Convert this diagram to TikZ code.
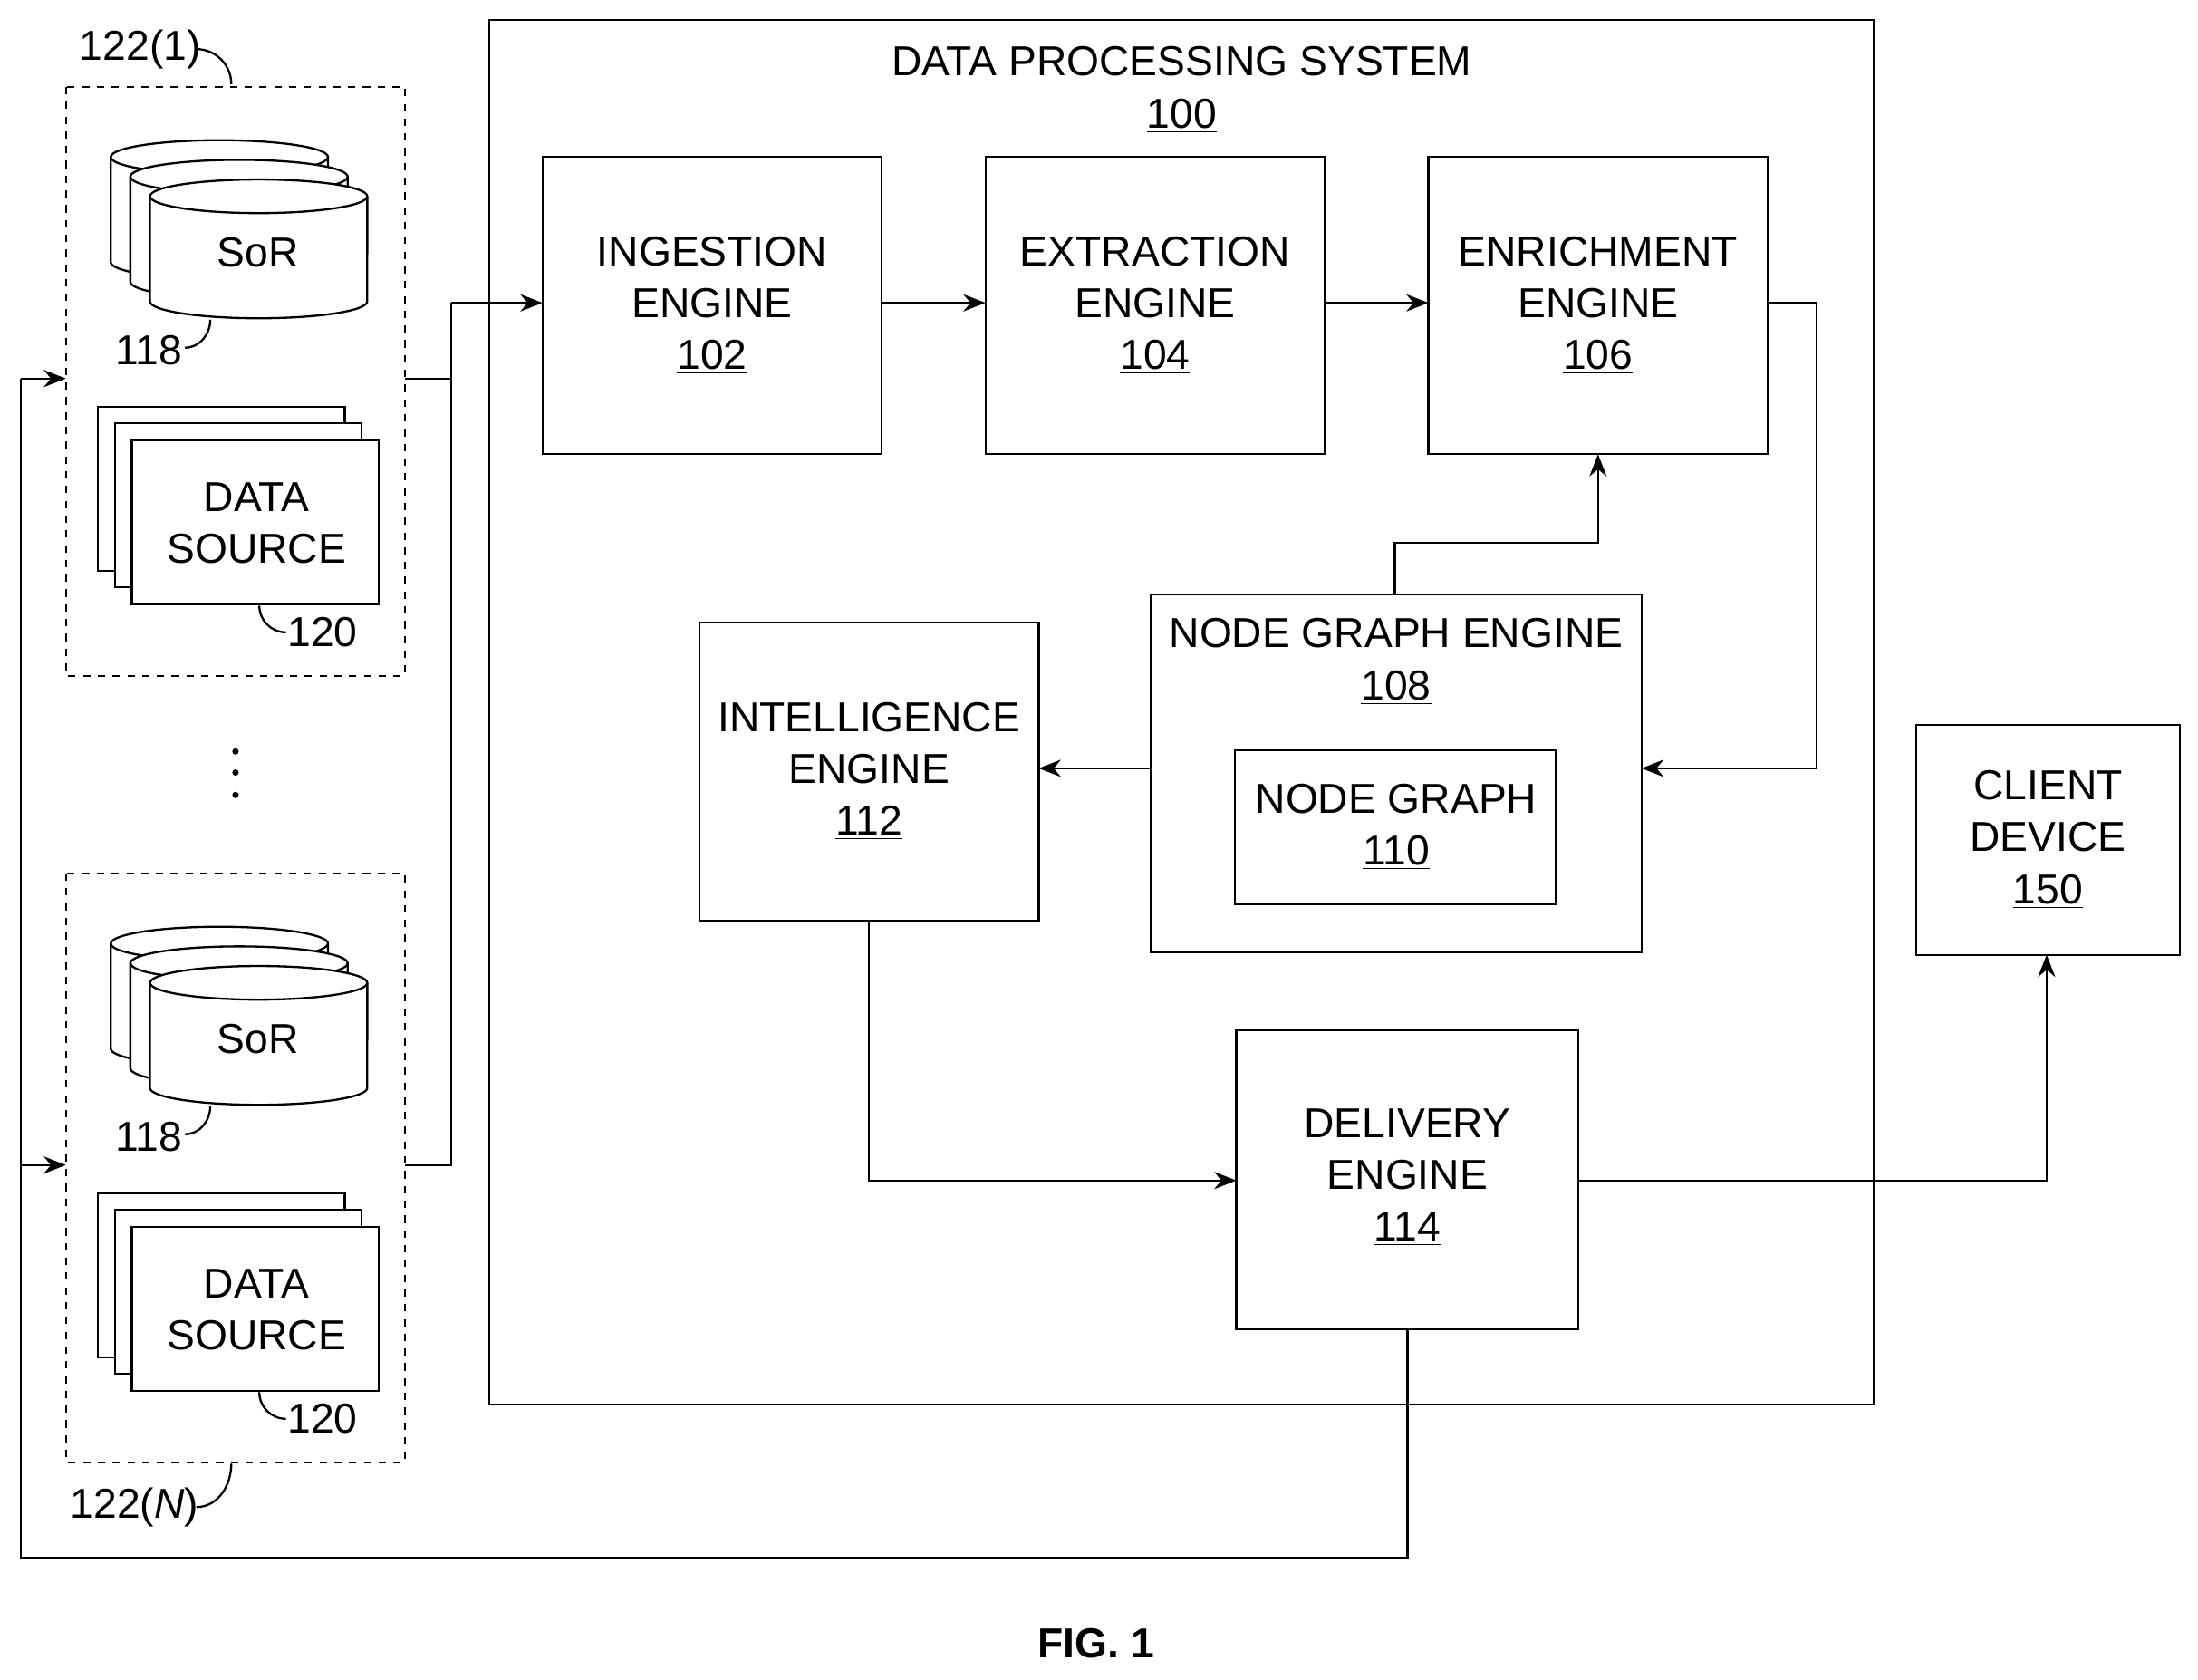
\documentclass[tikz,border=0pt]{standalone}
\usepackage{fontspec}
\setmainfont{Liberation Sans}
\usetikzlibrary{arrows.meta}
\begin{document}
\begin{tikzpicture}[x=0.02cm,y=-0.02cm,line width=0.85pt,
  box/.style={draw,minimum width=0pt},
  txt/.style={align=center,font=\fontsize{17}{20}\selectfont,inner sep=0pt},
  con/.style={line width=0.85pt,-{Stealth[length=9pt,width=7pt]}},
  ln/.style={line width=0.85pt}]
\useasboundingbox (0,0) rectangle (1568,1198);
% main system box
\draw (349,14) rectangle (1337,1002);
\node[txt] (dpst) at (843,44) {DATA PROCESSING SYSTEM};
\node[txt] (dpsn) at (843,83) {\underline{100}};
% boxes
\draw (387,112) rectangle (629,324); \coordinate (ing) at (387,216);
\node[txt] (ingt) at (508,218) {INGESTION\\[1pt]ENGINE\\[1pt]\underline{102}};
\draw (703,112) rectangle (945,324);
\node[txt] (ext) at (824,218) {EXTRACTION\\[1pt]ENGINE\\[1pt]\underline{104}};
\draw (1019,112) rectangle (1261,324);
\node[txt] (enr) at (1140,218) {ENRICHMENT\\[1pt]ENGINE\\[1pt]\underline{106}};
\draw (821,424) rectangle (1171,679);
\node[txt] (nge) at (996,472) {NODE GRAPH ENGINE\\[1pt]\underline{108}};
\draw (881,535) rectangle (1110,645);
\node[txt] (ng) at (996,590) {NODE GRAPH\\[1pt]\underline{110}};
\draw (499,444) rectangle (741,657);
\node[txt] (int) at (620,550) {INTELLIGENCE\\[1pt]ENGINE\\[1pt]\underline{112}};
\draw (882,735) rectangle (1126,948);
\node[txt] (del) at (1004,840) {DELIVERY\\[1pt]ENGINE\\[1pt]\underline{114}};
\draw (1367,517) rectangle (1555,681);
\node[txt] (cli) at (1461,599) {CLIENT\\[1pt]DEVICE\\[1pt]\underline{150}};
% groups
\foreach \dy/\lab in {0/1,561/N}{
\begin{scope}[shift={(0,\dy)}]
\draw[dashed] (47,62) rectangle (289,482);
\foreach \L/\T in {79/112,93/126,107/140}{
 \path[fill=white,draw] (\L,\T) -- (\L,\T+75) arc[start angle=180,end angle=360,x radius=1.55cm,y radius=0.24cm] -- (\L+155,\T) arc[start angle=0,end angle=180,x radius=1.55cm,y radius=0.24cm] -- cycle;
 \draw (\L,\T) arc[start angle=180,end angle=360,x radius=1.55cm,y radius=0.24cm];
}
\node[txt] (sor\lab) at (184,180) {SoR};
\draw (150,228) to[out=-90,in=0] (132,248);
\node[txt] (n118\lab) at (106,250) {118};
\foreach \o in {0,12,24}{\draw[fill=white] (70+\o,290+\o) rectangle (246+\o,407+\o);}
\node[txt] (ds\lab) at (183,373) {DATA\\[1pt]SOURCE};
\draw (185,432) to[out=-90,in=180] (204,451);
\node[txt] (n120\lab) at (230,451) {120};
\end{scope}}
\node[txt] (g1) at (100,35) {122(1)};
\draw (140,35) to[out=0,in=90] (165,60);
\node[txt] (gN) at (96,1075) {122(\textit{N})};
\draw (140,1075) to[out=0,in=-90] (165,1044);
\foreach \y in {536,551,567}{\fill (168,\y) circle (2.3);}
% connectors
\coordinate (j) at (322,216);
\draw[ln] (289,270) -- (322,270) -- (j);
\draw[ln] (289,831) -- (322,831) -- (j);
\draw[con] (j) -- (387,216);
\draw[con] (629,216) -- (703,216);
\draw[con] (945,216) -- (1019,216);
\draw[con] (1261,216) -- (1296,216) -- (1296,548) -- (1171,548);
\draw[con] (995,424) -- (995,387) -- (1140,387) -- (1140,324);
\draw[con] (821,548) -- (741,548);
\draw[con] (620,657) -- (620,842) -- (882,842);
\draw[con] (1126,842) -- (1460,842) -- (1460,681);
\draw[ln] (1004,948) -- (1004,1111) -- (15,1111) -- (15,270);
\draw[con] (15,270) -- (47,270);
\draw[con] (15,831) -- (47,831);
\node[txt,font=\bfseries\fontsize{17}{20}\selectfont] (fig) at (782,1172) {FIG. 1};
\end{tikzpicture}
\end{document}
